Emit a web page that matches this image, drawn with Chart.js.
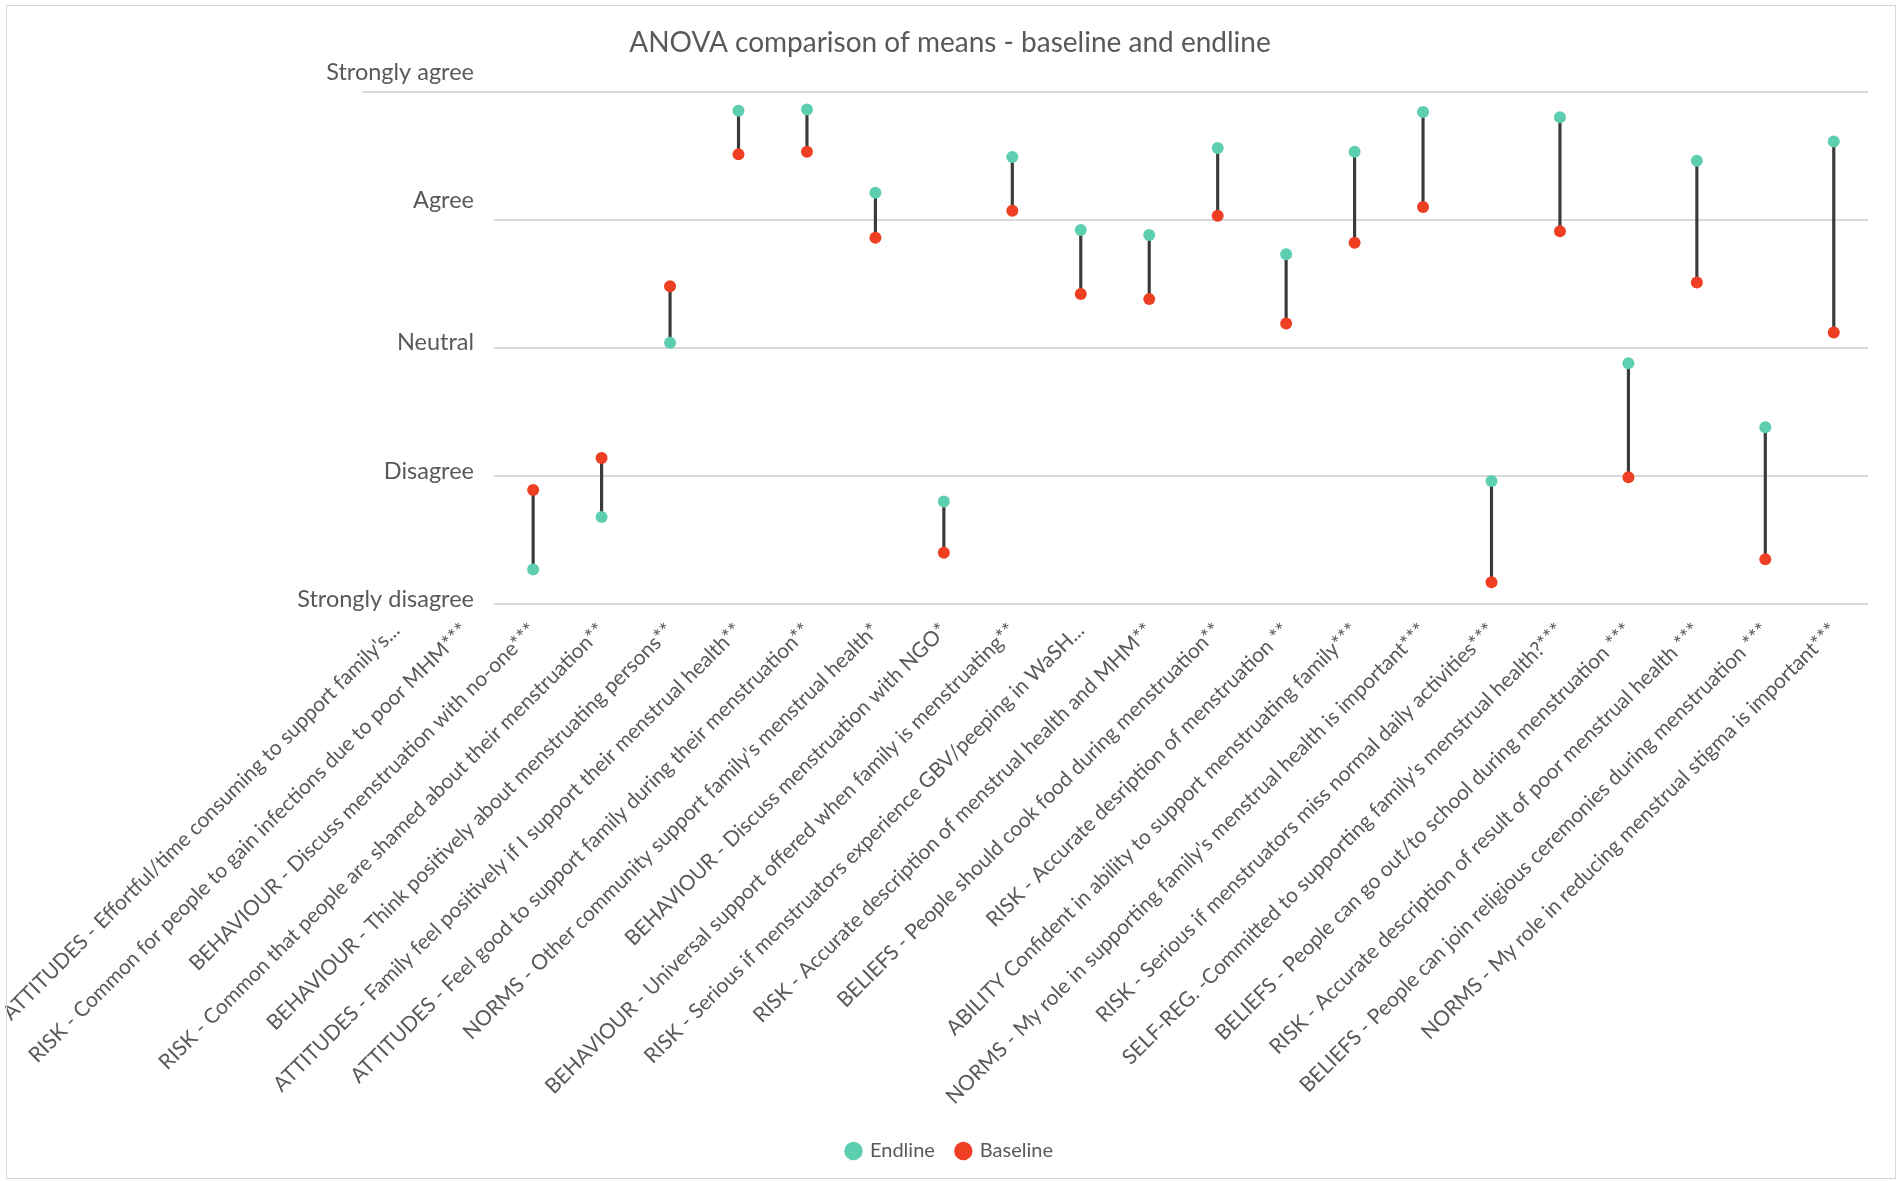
<!DOCTYPE html>
<html>
<head>
<meta charset="utf-8">
<script src="https://cdn.jsdelivr.net/npm/chart.js@4.4.0/dist/chart.umd.min.js"></script>
<style>
  html, body { margin: 0; padding: 0; background: #fff; }
  #wrap { position: relative; width: 1900px; height: 1181px; }
  #frame { position: absolute; left: 6px; top: 5px; width: 1888px; height: 1172px; border: 1px solid #d9d9d9; pointer-events: none; }
</style>
</head>
<body>
<div id="wrap">
  <canvas id="myChart" width="1900" height="1181"></canvas>
  <div id="frame"></div>
</div>
<script>
var categories = [
  "ATTITUDES - Effortful/time consuming to support family's...",
  "RISK - Common for people to gain infections due to poor MHM***",
  "BEHAVIOUR - Discuss menstruation with no-one***",
  "RISK - Common that people are shamed about their menstruation**",
  "BEHAVIOUR - Think positively about menstruating persons**",
  "ATTITUDES - Family feel positively if I support their menstrual health**",
  "ATTITUDES - Feel good to support family during their menstruation**",
  "NORMS - Other community support family's menstrual health*",
  "BEHAVIOUR - Discuss menstruation with NGO*",
  "BEHAVIOUR - Universal support offered when family is menstruating**",
  "RISK - Serious if menstruators experience GBV/peeping in WaSH...",
  "RISK - Accurate description of menstrual health and MHM**",
  "BELIEFS - People should cook food during menstruation**",
  "RISK - Accurate desription of menstruation **",
  "ABILITY Confident in ability to support menstruating family***",
  "NORMS - My role in supporting family's menstrual health is important***",
  "RISK - Serious if menstruators miss normal daily activities***",
  "SELF-REG. -Committed to supporting family's menstrual health?***",
  "BELIEFS - People can go out/to school during menstruation ***",
  "RISK - Accurate description of result of poor menstrual health ***",
  "BELIEFS - People can join religious ceremonies during menstruation ***",
  "NORMS - My role in reducing menstrual stigma is important***"
];

// 1 = Strongly disagree ... 5 = Strongly agree
var endline  = [null, null, 1.27, 1.68, 3.04, 4.85, 4.86, 4.21, 1.80, 4.49, 3.92, 3.88, 4.56, 3.73, 4.53, 4.84, 1.96, 4.80, 2.88, 4.46, 2.38, 4.61];
var baseline = [null, null, 1.89, 2.14, 3.48, 4.51, 4.53, 3.86, 1.40, 4.07, 3.42, 3.38, 4.03, 3.19, 3.82, 4.10, 1.17, 3.91, 1.99, 3.51, 1.35, 3.12];

var scaleLabels = ["", "Strongly disagree", "Disagree", "Neutral", "Agree", "Strongly agree"];

// vertical connector between the two means
var ranges = baseline.map(function(b, i) {
    if (b === null || endline[i] === null) return null;
    return [b, endline[i]];
});

var textColor = '#595959';
var fontFamily = 'Lato, "Open Sans", sans-serif';
var yFontSize = 23.5;

// y labels are mirrored into the plot; right edge should sit at x=474
var mctx = document.createElement('canvas').getContext('2d');
mctx.font = yFontSize + 'px ' + fontFamily;
var widest = mctx.measureText('Strongly disagree').width;

var ctx = document.getElementById('myChart').getContext('2d');

var chart = new Chart(ctx, {
    type: 'bar',
    data: {
        labels: categories,
        datasets: [{
            type: 'line',
            label: 'Endline',
            data: endline,
            showLine: false,
            pointRadius: 6,
            pointHoverRadius: 6,
            pointBorderWidth: 0,
            backgroundColor: '#5dcfb0',
            borderColor: '#5dcfb0',
            order: 1
        }, {
            type: 'line',
            label: 'Baseline',
            data: baseline,
            showLine: false,
            pointRadius: 6,
            pointHoverRadius: 6,
            pointBorderWidth: 0,
            backgroundColor: '#ee3f23',
            borderColor: '#ee3f23',
            order: 2
        }, {
            type: 'bar',
            label: 'range',
            data: ranges,
            barThickness: 2.5,
            backgroundColor: '#3a3a3a',
            borderWidth: 0,
            order: 3
        }]
    },
    options: {
        responsive: false,
        animation: false,
        layout: {
            padding: { left: 32, right: 32, top: 0, bottom: 10 }
        },
        plugins: {
            title: {
                display: true,
                text: 'ANOVA comparison of means - baseline and endline',
                color: textColor,
                font: { family: fontFamily, size: 28, weight: 'normal' },
                padding: { top: 26, bottom: 32 }
            },
            legend: {
                position: 'bottom',
                labels: {
                    color: textColor,
                    font: { family: fontFamily, size: 20 },
                    usePointStyle: true,
                    pointStyle: 'circle',
                    boxWidth: 13,
                    boxHeight: 13,
                    padding: 22,
                    filter: function(item) { return item.text !== 'range'; }
                }
            },
            tooltip: { enabled: false }
        },
        scales: {
            x: {
                grid: { display: false },
                border: { display: false },
                ticks: {
                    color: textColor,
                    font: { family: fontFamily, size: 21 },
                    autoSkip: false,
                    maxRotation: 45,
                    minRotation: 45,
                    padding: 6
                },
                afterFit: function(scale) {
                    scale.height = 515;
                    scale.paddingLeft = 0;
                    scale.paddingRight = 0;
                }
            },
            y: {
                min: 1,
                max: 5,
                border: { display: false },
                grid: { color: '#d9d9d9', lineWidth: 2, drawTicks: false },
                ticks: {
                    z: -1,
                    stepSize: 1,
                    autoSkip: false,
                    mirror: true,
                    crossAlign: 'far',
                    padding: 112 - widest,
                    labelOffset: -19,
                    color: textColor,
                    font: { family: fontFamily, size: yFontSize },
                    showLabelBackdrop: function(c) { return c.tick && c.tick.value !== 5; },
                    backdropColor: '#ffffff',
                    backdropPadding: { top: 4, bottom: 8, left: 60, right: 20 },
                    callback: function(v) {
                        var t = scaleLabels[v];
                        // empty first line nudges the text down half a line
                        if (v === 1 || v === 2 || v === 3) return ['', t];
                        return t;
                    }
                },
                afterFit: function(scale) { scale.width = 330; }
            }
        }
    }
});
</script>
</body>
</html>
